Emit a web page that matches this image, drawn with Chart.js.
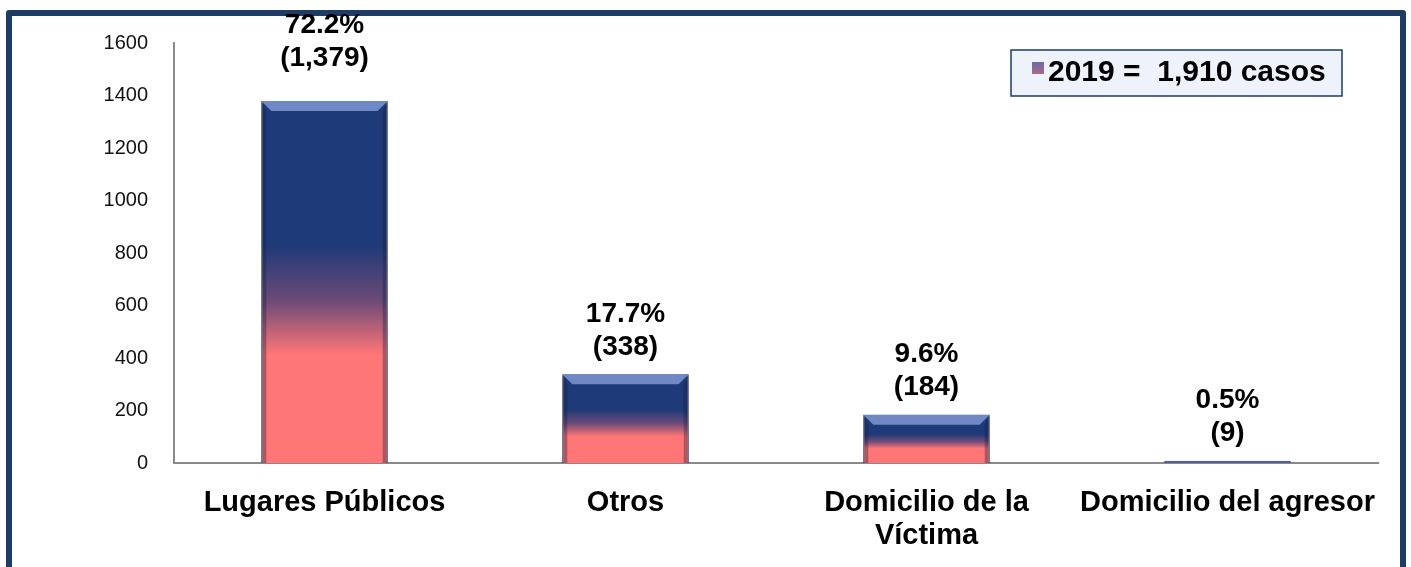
<!DOCTYPE html>
<html>
<head>
<meta charset="utf-8">
<script src="https://cdn.jsdelivr.net/npm/chart.js@4.4.1/dist/chart.umd.min.js"></script>
<style>
    html, body { margin: 0; padding: 0; background: #fff; }
    #wrap { position: relative; width: 1411px; height: 567px; overflow: hidden; }
    #frame {
        position: absolute; left: 6px; top: 10px; width: 1388px; height: 600px;
        border: 6px solid #1d3b63; border-radius: 3px;
    }
    #chart { position: absolute; left: 0; top: 0; }
</style>
</head>
<body>
<div id="wrap">
    <div id="frame"></div>
    <canvas id="chart" width="1411" height="567"></canvas>
</div>
<script>
// Data
const categories = ['Lugares Públicos', 'Otros', ['Domicilio de la', 'Víctima'], 'Domicilio del agresor'];
const casos = [1379, 338, 184, 9];
const percents = ['72.2%', '17.7%', '9.6%', '0.5%'];
const seriesLabel = '2019 =  1,910 casos';
const yTicks = [0, 200, 400, 600, 800, 1000, 1200, 1400, 1600];

const colors = {
    navy: '#1f3a78',
    salmon: '#ff7676',
    bevel: '#7088c4',
    thin: '#4a62a6',
    axis: '#8a8a8a',
    text: '#000000',
    frame: '#1d3b63'
};

const font = 'Arial, "Liberation Sans", sans-serif';

// Gradient per bar, from bar top to baseline
function barGradient(ctx) {
    const chart = ctx.chart;
    if (!chart.chartArea || ctx.type !== 'data') return colors.navy;
    const y = chart.scales.y;
    const top = y.getPixelForValue(ctx.raw);
    const base = y.getPixelForValue(0);
    if (base - top < 6) return colors.thin;
    const g = chart.ctx.createLinearGradient(0, top, 0, base);
    g.addColorStop(0, colors.navy);
    g.addColorStop(0.4, colors.navy);
    g.addColorStop(0.55, '#6a4a78');
    g.addColorStop(0.7, colors.salmon);
    g.addColorStop(1, colors.salmon);
    return g;
}

// Bevel edges on bars
const bevelPlugin = {
    id: 'bevel',
    afterDatasetsDraw(chart) {
        const c = chart.ctx;
        chart.getDatasetMeta(0).data.forEach(bar => {
            const left = bar.x - bar.width / 2;
            const right = bar.x + bar.width / 2;
            const h = bar.base - bar.y;
            if (h < 6) return;
            const b = Math.min(10, h / 2);
            c.save();
            // top facet
            c.fillStyle = colors.bevel;
            c.beginPath();
            c.moveTo(left, bar.y);
            c.lineTo(right, bar.y);
            c.lineTo(right - b, bar.y + b);
            c.lineTo(left + b, bar.y + b);
            c.closePath();
            c.fill();
            // side facets
            c.fillStyle = 'rgba(20, 30, 60, 0.35)';
            c.beginPath();
            c.moveTo(left, bar.y);
            c.lineTo(left + b * 0.5, bar.y + b);
            c.lineTo(left + b * 0.5, bar.base);
            c.lineTo(left, bar.base);
            c.closePath();
            c.fill();
            c.beginPath();
            c.moveTo(right, bar.y);
            c.lineTo(right - b * 0.5, bar.y + b);
            c.lineTo(right - b * 0.5, bar.base);
            c.lineTo(right, bar.base);
            c.closePath();
            c.fill();
            c.restore();
        });
    }
};

// Value labels: percent over count
const valueLabels = {
    id: 'valueLabels',
    afterDatasetsDraw(chart, args, opts) {
        const c = chart.ctx;
        c.save();
        c.font = 'bold 28px ' + font;
        c.fillStyle = colors.text;
        c.textAlign = 'center';
        c.textBaseline = 'middle';
        chart.getDatasetMeta(0).data.forEach((bar, i) => {
            const lift = (opts.lift && opts.lift[i]) || 0;
            const y2 = bar.y - 27 - lift;
            c.fillText('(' + casos[i].toLocaleString('en-US') + ')', bar.x, y2);
            c.fillText(percents[i], bar.x, y2 - 33);
        });
        c.restore();
    }
};

// Boxed legend in top-right corner
const boxLegend = {
    id: 'boxLegend',
    afterDraw(chart) {
        const c = chart.ctx;
        const x = 1011, y = 50, w = 331, h = 46;
        c.save();
        c.fillStyle = '#eef2fa';
        c.fillRect(x, y, w, h);
        c.strokeStyle = colors.frame;
        c.lineWidth = 1.5;
        c.strokeRect(x, y, w, h);
        const g = c.createLinearGradient(0, y + 12, 0, y + 25);
        g.addColorStop(0, '#6a6aa8');
        g.addColorStop(1, '#b06a86');
        c.fillStyle = g;
        c.fillRect(x + 21, y + 12, 12, 12);
        c.fillStyle = colors.text;
        c.font = 'bold 30px ' + font;
        c.textBaseline = 'middle';
        c.fillText(chart.data.datasets[0].label, x + 37, y + 23);
        c.restore();
    }
};

new Chart(document.getElementById('chart'), {
    type: 'bar',
    data: {
        labels: categories,
        datasets: [{
            label: seriesLabel,
            data: casos,
            backgroundColor: barGradient,
            borderColor: '#2a3550',
            borderWidth: 1,
            categoryPercentage: 1,
            barPercentage: 0.42
        }]
    },
    options: {
        responsive: false,
        animation: false,
        layout: { padding: { top: 43, right: 33, left: 0, bottom: 0 } },
        plugins: {
            legend: { display: false },
            tooltip: { enabled: false },
            valueLabels: { lift: [16, 0, 0, 0] }
        },
        scales: {
            y: {
                min: 0,
                max: 1600,
                afterFit: s => { s.width = 174; },
                afterBuildTicks: s => { s.ticks = yTicks.map(v => ({ value: v })); },
                grid: { display: false },
                border: { display: true, color: colors.axis, width: 2 },
                ticks: {
                    color: '#111',
                    padding: 18,
                    callback: v => String(v),
                    font: { size: 20, family: font }
                }
            },
            x: {
                afterFit: s => { s.height = 104; },
                grid: { display: false },
                border: { display: true, color: colors.axis, width: 2 },
                ticks: {
                    color: colors.text,
                    padding: 15,
                    maxRotation: 0,
                    autoSkip: false,
                    font: { size: 29, weight: 'bold', family: font, lineHeight: 1.14 }
                }
            }
        }
    },
    plugins: [bevelPlugin, valueLabels, boxLegend]
});
</script>
</body>
</html>
